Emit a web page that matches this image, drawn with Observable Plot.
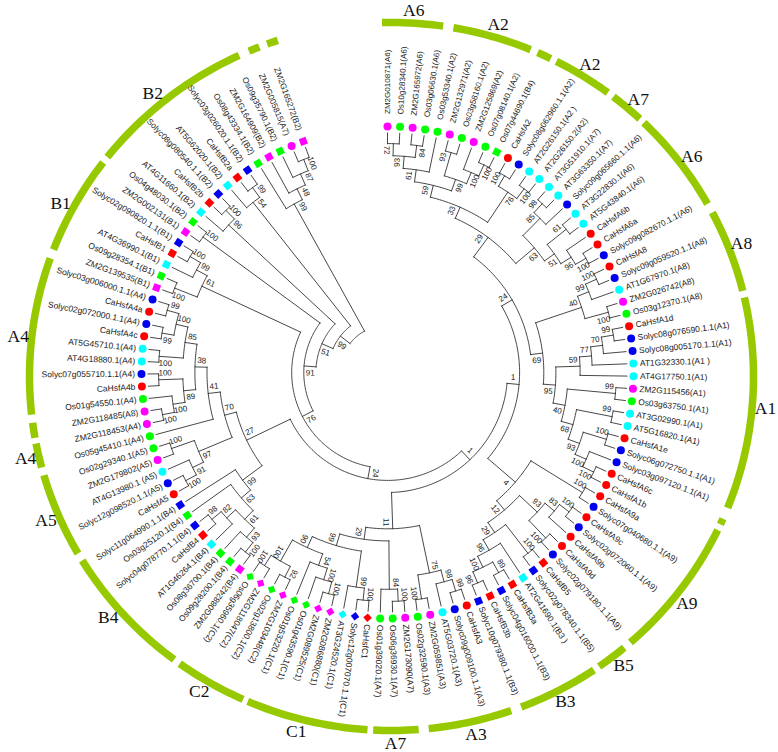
<!DOCTYPE html>
<html>
<head>
<meta charset="utf-8">
<style>
html,body{margin:0;padding:0;background:#fff}
</style>
<script src="https://cdn.jsdelivr.net/npm/d3@7"></script>
<script src="https://cdn.jsdelivr.net/npm/@observablehq/plot@0.6"></script>
</head>
<body>
<div id="chart"></div>
<script>
const leafNames = [
"ZM2G010871(A6)","Os10g28340.1(A6)","ZM2G165972(A6)","Os03g06630.1(A6)","Os03g53340.1(A2)","ZM2G132971(A2)","Os03g58160.1(A2)","ZM2G125869(A2)","Os07g08140.1(A2)","Os07g44690.1(B4)",
"CaHsfA2","Solyc08g062960.1.1(A2)","AT2G26150.1(A2 )","AT2G26150.2(A2)","AT3G51910.1(A7)","AT3G63350.1(A7)","Solyc09g065660.1.1(A6)","AT3G22830.1(A6)","AT5G43840.1(A6)","CaHsfA6b",
"CaHsfA6a","Solyc09g082670.1.1(A6)","CaHsfA8","Solyc09g059520.1.1(A8)","AT1G67970.1(A8)","ZM2G026742(A8)","Os03g12370.1(A8)","CaHsfA1d","Solyc08g076590.1.1(A1)","Solyc08g005170.1.1(A1)",
"AT1G32330.1(A1 )","AT4G17750.1(A1)","ZM2G115456(A1)","Os03g63750.1(A1)","AT3G02990.1(A1)","AT5G16820.1(A1)","CaHsfA1e","Solyc06g072750.1.1(A1)","Solyc03g097120.1.1(A1)","CaHsfA6c",
"CaHsfA1b","CaHsfA9a","Solyc07g040680.1.1(A9)","CaHsfA9c","Solyc02g072060.1.1(A9)","CaHsfA9b","CaHsfA9d","Solyc02g079180.1.1(A9)","CaHsfB5","Solyc02g078340.1.1(B5)",
"AT2G41690.1(B3 )","CaHsfB3a","Solyc04g016000.1.1(B3)","CaHsfB3b","Solyc10g079380.1.1(B3)","CaHsfA3","Solyc09g009100.1.1(A3)","AT5G03720.1(A3)","ZM2G059851(A3)","Os02g32590.1(A3)",
"ZM2G173090(A7)","Os06g36930.1(A7)","Os01g39020.1(A7)","CaHsfC1","Solyc12g007070.1.1(C1)","AT3G24520.1(C1)","ZM2G086880(C1)","ZM2G089525(C1)","Os01g43590.1(C1)","Os01g53220.1(C1)",
"ZM2G103448(C2)","Os02g13800.1(C2)","ZM2G118047(C2)","Os06g35960.1(C2)","ZM2G088242(B4)","Os09g28200.1(B4)","Os08g36700.1(B4)","AT1G46264.1(B4)","CaHsfB4","Solyc04g078770.1.1(B4)",
"Os03g25120.1(B4)","Solyc11g064990.1.1(B4)","CaHsfA5","Solyc12g098520.1.1(A5)","AT4G13980.1 (A5)","ZM2G179802(A5)","Os02g29340.1(A5)","Os05g45410.1(A4)","ZM2G118453(A4)","ZM2G118485(A8)",
"Os01g54550.1(A4)","CaHsfA4b","Solyc07g055710.1.1(A4)","AT4G18880.1(A4)","AT5G45710.1(A4)","CaHsfA4c","Solyc02g072000.1.1(A4)","CaHsfA4a","Solyc03g006000.1.1(A4)","ZM2G139535(B1)",
"Os09g28354.1(B1)","AT4G36990.1(B1)","CaHsfB1","Solyc02g090820.1.1(B1)","ZM2G002131(B1)","Os04g48030.1(B2)","AT4G11660.1(B2)","CaHsfB2b","Solyc08g080540.1.1(B2)","AT5G62020.1(B2)",
"CaHsfB2a","Solyc03g026020.1.1(B2)","Os08g43334.1(B2)","ZM2G164909(B2)","Os09g35790.1(B2)","ZM2G005815(A7)","ZM2G165272(B2)"];

const leafShapeRuns = [["o",9],["s",1],["o",38],["s",7],["o",8],["d",11],["s",8],["o",17],["s",16],["o",1],["s",1]];

// Tree topology with bootstrap values; numbers inside parentheses are 1-based leaf positions.
const c61a = "(((1,2)72,(3,4)84)93,5)61";
const c99a = "((6,7)93,(8,(9,10)100)100)99";
const c76a = "((11,12)100,(13,14)100)76";
const c33 = `((${c61a},${c99a})59,${c76a})33`;
const c63 = "(((15,16)98,17)85,((18,19)61,(20,(21,22)100)96)51)63";
const c29 = `(${c33},${c63})29`;
const c40a = "(((23,24)100,25)99,(26,27)100)40";
const c59b = "((((28,29)99,30)70,31)77,32)59";
const c40b = "((33,34)99,((35,36)99,((37,38)100,(39,(40,41)100)100)93)68)40";
const c69 = `(${c40a},(${c59b},${c40b})95)69`;
const c24u = `(${c29},${c69})24`;
const c4 = "((42,43)100,((((44,45)100,46)83,(47,48)100)93,((49,50)100,(51,((52,53)89,(54,55)96)100)96)29)12)4";
const c1u = `(${c24u},${c4})1`;
const c75 = "(((56,57)99,58)98,(59,60)100)75";
const c54 = "(((67,68)100,69)100,70)54";
const c100x = "((71,72)92,(73,74)100)100";
const c99L = `(((64,65)100,66)99,(${c54},${c100x})90)99`;
const c29L = `(((61,62)100,63)84,${c99L})29`;
const c1l = `(${c1u},(${c75},${c29L})11)1`;
const c99B = "(((((75,76)100,77)93,(78,(79,80)98)82)61,81)63,82)99";
const c97 = "(((83,84)100,85)91,(86,87)100)97";
const c89 = "(((89,90)100,91)100,(92,93)100)89";
const c85 = "((94,95)100,((96,97)99,(98,99)99)100)85";
const c70 = `(${c97},(88,(${c89},${c85})38)41)70`;
const c24L = `(${c1l},(${c99B},${c70})27)24`;
const c61c = "((100,101)100,(102,(103,104)100)99)61";
const c91 = `((${c24L},${c61c})76,(105,106)100)91`;
const c51 = `(${c91},(107,(108,109)100)96)51`;
const c99c = `(${c51},(110,(111,112)99)54)99`;
const treeText = `(${c99c},(113,(114,(115,(116,117)100)87)48)99)`;

// Outer ring: group names, ring start and end angles (degrees clockwise from top), label angle.
const ringNames = ["A6","A2","","A2","A7","A6","A8","A1","","A9","B5","B3","A3","A7","C1","C2","B4","A5","A4","","A4","B1","B2","",""];
const ringStart = [-1.5,9.85,23.8,27.1,37.8,44.2,62.4,77.1,113.7,115.7,140,146,160.7,175.7,183.8,204.2,216.9,240,255.1,260,263.8,291,308.3,336.8,339.9];
const ringEnd   = [8.2,22.6,26.1,36.7,43.3,60.8,76,111.8,114.7,138.7,145,159,174.1,182.9,203.4,215.8,238.7,253.8,259.1,262.5,289.5,307.2,335.1,338.6,341.7];
const ringLabelAt = [3.4,16.5,null,31.9,41.1,53.1,68.8,95,null,128.1,141.8,152.4,167,179.4,194.7,210.8,229,247,257.1,null,276.2,298.2,320.5,null,null];

const step = 2.931, rad = Math.PI/180;
const tipR = 241, levelR = 12.1, leafEndR = 239.5, dotR = 246;
const ringRx = 362, ringRy = 354, ringDx = 4, ringDy = 4;
const polar = (r, t) => ({x: r*Math.sin(t*rad), y: -r*Math.cos(t*rad)});
const leafAngle = i => (i-1)*step;

function textRot(t){
  const a = ((t%360)+360)%360;
  return (a < 215) ? a-90 : a+90;
}

// Parse the tree
function parse(s){
  let p = 0;
  function node(){
    if (s[p] === "("){
      p++;
      const kids = [node()];
      while (s[p] === ","){ p++; kids.push(node()); }
      p++;
      let m = "";
      while (p < s.length && /[0-9]/.test(s[p])) m += s[p++];
      return {kids, boot: m};
    }
    let m = "";
    while (/[0-9]/.test(s[p])) m += s[p++];
    return {leaf:+m};
  }
  return node();
}
const root = parse(treeText);
(function layout(n){
  if (n.leaf){ n.t = leafAngle(n.leaf); n.h = 0; n.r = tipR; return; }
  n.kids.forEach(layout);
  n.h = d3.max(n.kids, k => k.h) + 1;
  n.r = tipR - levelR*n.h;
  n.t = (n.kids[0].t + n.kids[n.kids.length-1].t)/2;
})(root);

const edges = [], boots = [];
let eid = 0;
(function walk(n){
  if (!n.kids) return;
  const a = n.kids[0].t, b = n.kids[n.kids.length-1].t;
  const id = eid++;
  const steps = Math.max(2, Math.ceil((b-a)));
  for (let i=0;i<=steps;i++){ const q = polar(n.r, a+(b-a)*i/steps); edges.push({id, ...q}); }
  n.kids.forEach((k,ki) => {
    const sid = eid++;
    edges.push({id:sid, ...polar(n.r, k.t)});
    edges.push({id:sid, ...polar(k.h===0 ? leafEndR : k.r, k.t)});
    if (k.boot){
      const lr = k.r - 6.5;
      const side = ki===0 ? -1 : 1;
      const t = k.t + side*(6.5/lr)/rad;
      boots.push({...polar(lr, t), text:k.boot, rotate: textRot(t)});
    }
    walk(k);
  });
})(root);

const shapes = leafShapeRuns.flatMap(([c,n]) => Array(n).fill(c));
const fillOf = n => n.startsWith("Ca") ? "#ff0000" : n.startsWith("Solyc") ? "#0000ee" : n.startsWith("AT") ? "#00ffff" : n.startsWith("ZM") ? "#ff00ff" : "#00ff00";
const leaves = leafNames.map((name,i) => {
  const t = leafAngle(i+1);
  const sq = Math.sin(t*rad)**2, up = Math.max(0, Math.cos(t*rad));
  return {name, t, shape:shapes[i], fill:fillOf(name), ...polar(dotR,t),
          lab:polar(dotR + 6.5 + 6*up*up, t), rot:textRot(t), start:t<215,
          fs: t<90 ? 8.05+0.4*sq : t<215 ? 8.6-0.2*sq : 8.3+0.2*sq};
});
const lx = d => d.lab.x, ly = d => d.lab.y;

const ringLines = [];
ringNames.forEach((nm,i) => {
  const a = ringStart[i], b = ringEnd[i], n = Math.ceil(b-a)+1;
  for (let k=0;k<=n;k++){
    const t = a+(b-a)*k/n;
    ringLines.push({id:i, x:ringDx+ringRx*Math.sin(t*rad), y:ringDy-ringRy*Math.cos(t*rad)});
  }
});
const ringLabels = ringNames.map((text,i) => ({text, t:ringLabelAt[i]})).filter(d => d.text).map(d => ({
  text:d.text,
  x:ringDx+1.037*ringRx*Math.sin(d.t*rad),
  y:ringDy-1.037*ringRy*Math.cos(d.t*rad)
}));

const plot = Plot.plot({
  width:778, height:752, margin:0,
  x:{axis:null, domain:[-387,391], range:[0,778]},
  y:{axis:null, domain:[-372,380], range:[0,752]},
  style:{fontFamily:"'Liberation Sans', Arial, sans-serif", background:"#fff"},
  marks:[
    Plot.line(ringLines,{x:"x",y:"y",z:"id",stroke:"#97c900",strokeWidth:7.5,strokeLinecap:"butt",strokeLinejoin:"round"}),
    Plot.line(edges,{x:"x",y:"y",z:"id",stroke:"#333",strokeWidth:0.9,strokeLinecap:"square"}),
    Plot.dot(leaves.filter(d=>d.shape==="o"),{x:"x",y:"y",r:4,fill:"fill",symbol:"circle"}),
    Plot.dot(leaves.filter(d=>d.shape==="s"),{x:"x",y:"y",r:4,fill:"fill",symbol:"square",rotate:"t"}),
    Plot.dot(leaves.filter(d=>d.shape==="d"),{x:"x",y:"y",r:3.4,fill:"fill",symbol:"square",rotate:d=>d.t+45}),
    Plot.text(leaves.filter(d=>d.start),{x:lx,y:ly,text:"name",rotate:"rot",textAnchor:"start",fontSize:"fs",fill:"#1a1a1a"}),
    Plot.text(leaves.filter(d=>!d.start),{x:lx,y:ly,text:"name",rotate:"rot",textAnchor:"end",fontSize:"fs",fill:"#1a1a1a"}),
    Plot.text(boots,{x:"x",y:"y",text:"text",rotate:"rotate",fontSize:8,fill:"#1a1a1a"}),
    Plot.text(ringLabels,{x:"x",y:"y",text:"text",fontSize:17.5,fontFamily:"'Liberation Serif', 'Times New Roman', serif",fill:"#111"})
  ]
});
document.getElementById("chart").appendChild(plot);
</script>
</body>
</html>
